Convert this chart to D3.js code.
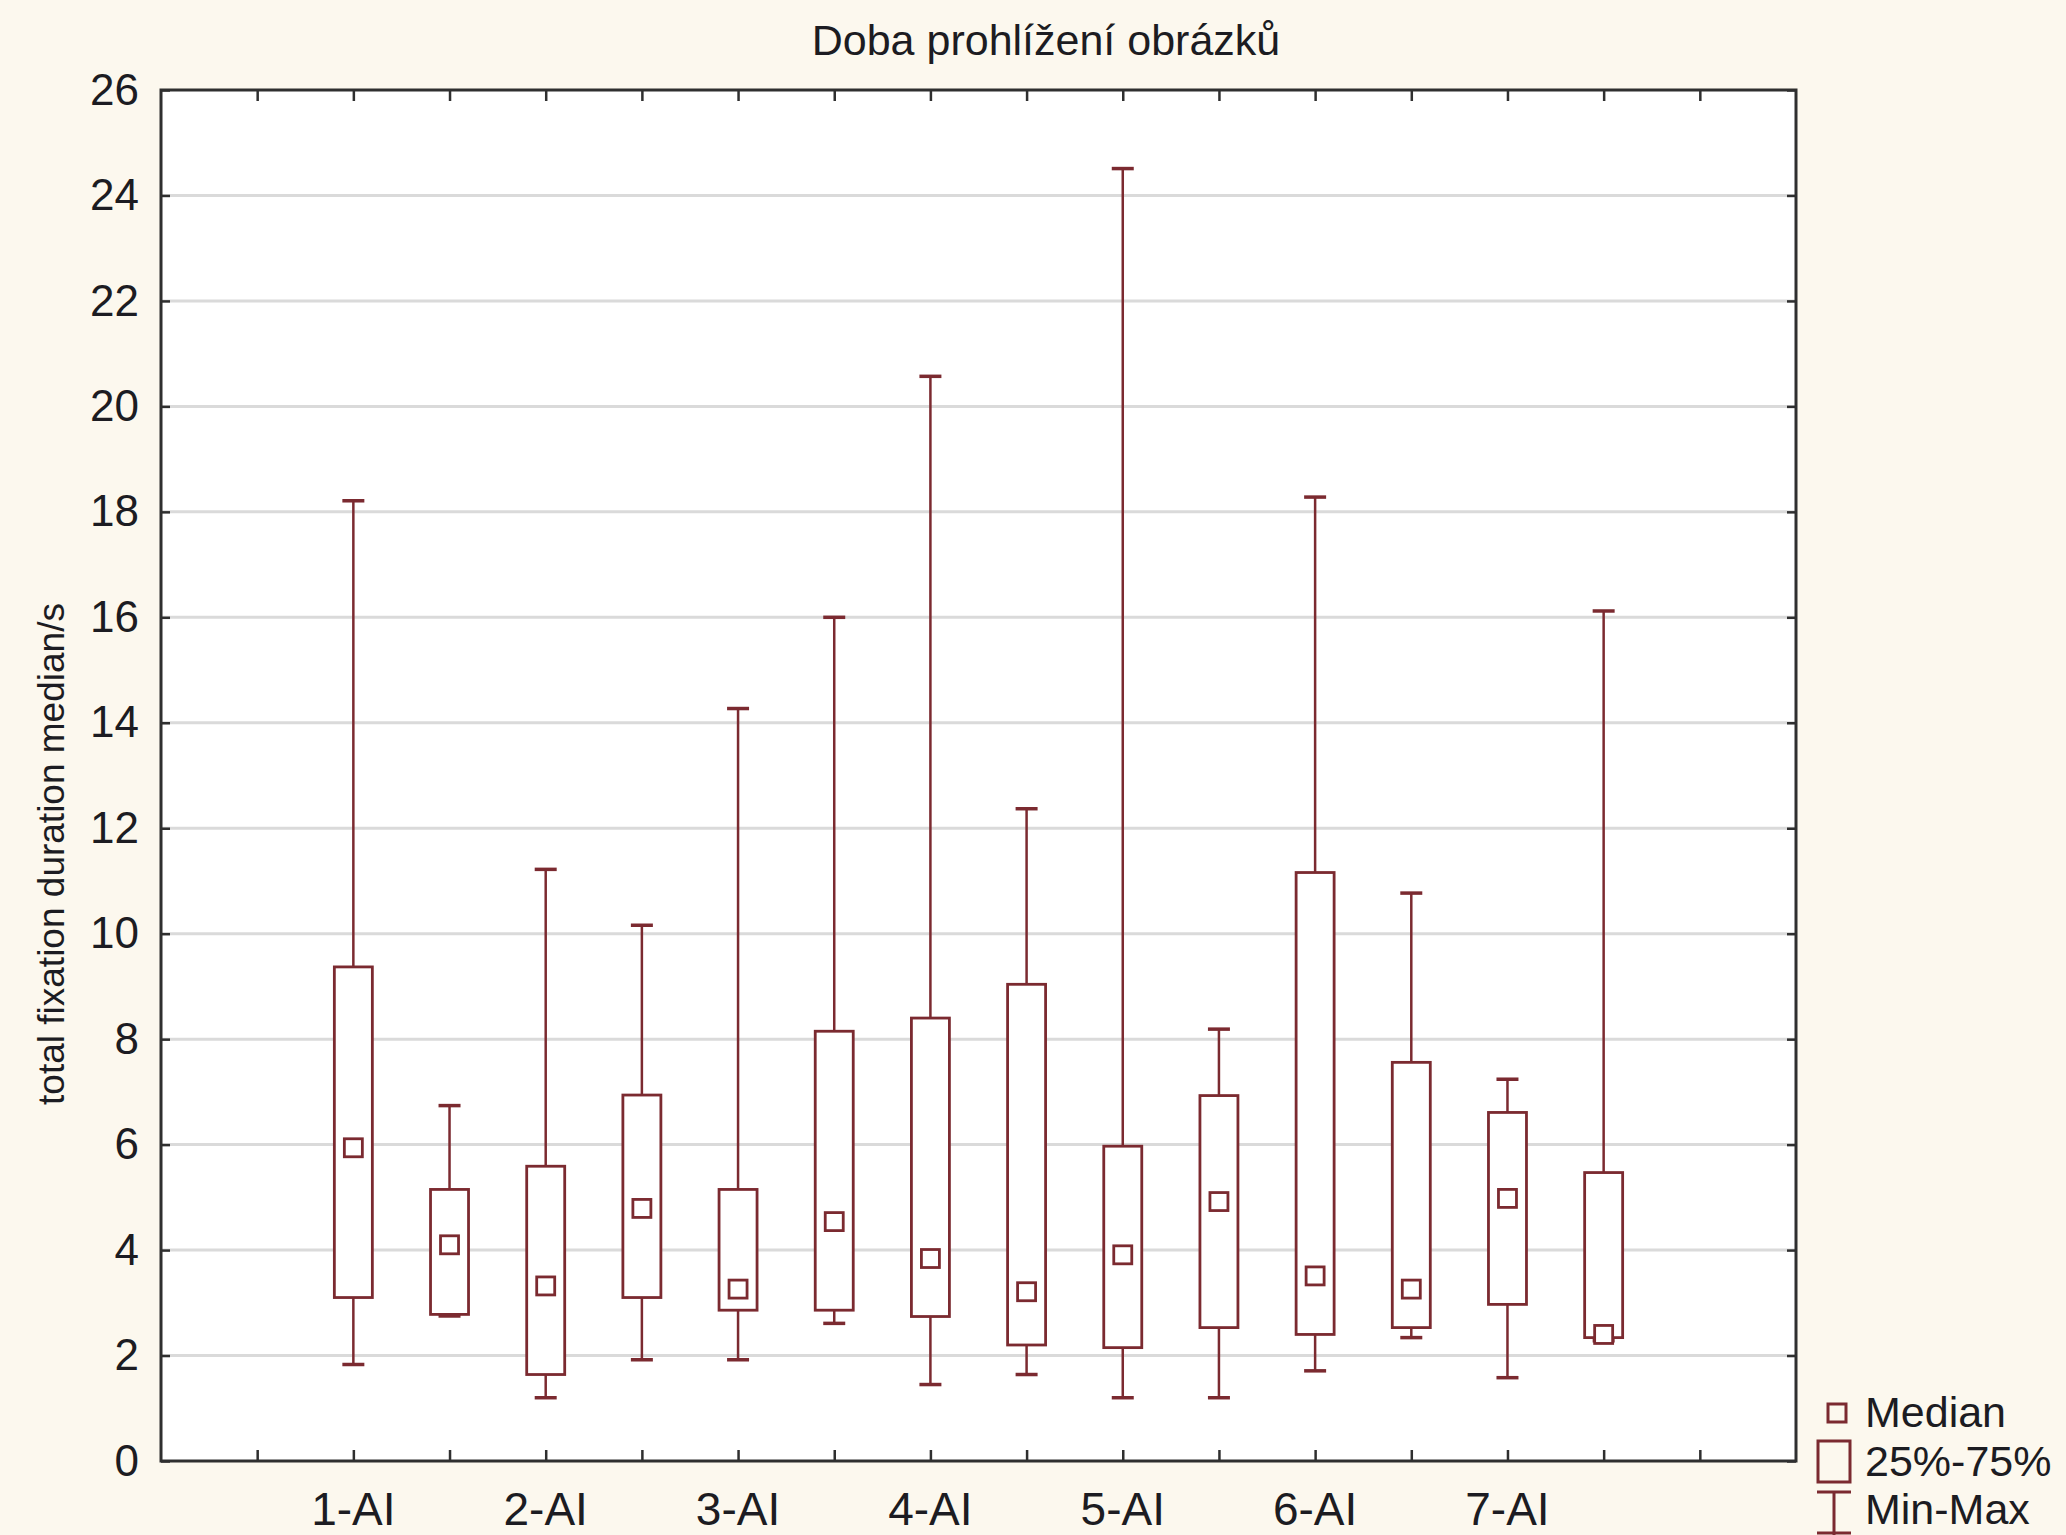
<!DOCTYPE html>
<html>
<head>
<meta charset="utf-8">
<script src="https://cdn.jsdelivr.net/npm/d3@7"></script>
<style>
  body { margin: 0; background: #fcf8ee; }
  text { font-family: "Liberation Sans", Arial, sans-serif; fill: #1c1c22; }
</style>
</head>
<body>
<div class="chartCont"></div>
<script>
var w = 2066;
var h = 1535;

// box positions on the category axis (Statistica style, 16 ticks)
const positions = [2, 3, 4, 5, 6, 7, 8, 9, 10, 11, 12, 13, 14, 15];
const tickLabels = ["1-AI", "", "2-AI", "", "3-AI", "", "4-AI", "", "5-AI", "", "6-AI", "", "7-AI", ""];

// values
const minVals    = [1.83, 2.75, 1.20, 1.92, 1.92, 2.61, 1.45, 1.64, 1.20, 1.20, 1.71, 2.34, 1.58, 2.28];
const q1Vals     = [3.10, 2.78, 1.64, 3.10, 2.86, 2.86, 2.74, 2.20, 2.15, 2.53, 2.40, 2.53, 2.97, 2.34];
const medianVals = [5.94, 4.10, 3.32, 4.79, 3.26, 4.54, 3.84, 3.21, 3.91, 4.92, 3.51, 3.26, 4.98, 2.40];
const q3Vals     = [9.37, 5.15, 5.59, 6.94, 5.15, 8.15, 8.40, 9.04, 5.97, 6.93, 11.16, 7.56, 6.61, 5.47];
const maxVals    = [18.21, 6.74, 11.22, 10.16, 14.27, 16.0, 20.57, 12.37, 24.51, 8.19, 18.28, 10.77, 7.24, 16.12];

const yTicks = d3.range(0, 27, 2);
const legendItems = ["Median", "25%-75%", "Min-Max"];

const col = "#7b2a30";

var svg = d3.select(".chartCont").append("svg")
    .attr("width", w)
    .attr("height", h);

svg.append("rect").attr("width", w).attr("height", h).attr("fill", "#fcf8ee");

const pLeft = 161, pRight = 1796, pTop = 90, pBottom = 1461;

const x = d3.scaleLinear().domain([0, 17]).range([pLeft, pRight]);
const y = d3.scaleLinear().domain([0, 26]).range([pBottom, pTop]);

// plot background
svg.append("rect")
    .attr("x", pLeft).attr("y", pTop)
    .attr("width", pRight - pLeft).attr("height", pBottom - pTop)
    .attr("fill", "#ffffff");

// gridlines
svg.append("g").selectAll("line")
    .data(yTicks.filter(d => d > 0 && d < 26))
    .enter().append("line")
    .attr("x1", pLeft).attr("x2", pRight)
    .attr("y1", d => y(d)).attr("y2", d => y(d))
    .attr("stroke", "#dadada")
    .attr("stroke-width", 3);

// axes with inward ticks
const xTickVals = d3.range(1, 17);

svg.append("g")
    .attr("transform", "translate(0," + pBottom + ")")
    .call(d3.axisBottom(x).tickValues(xTickVals).tickSize(-11).tickFormat(""))
    .call(g => g.select(".domain").remove())
    .selectAll("line").attr("stroke", "#2f2f2f").attr("stroke-width", 2.5);

svg.append("g")
    .attr("transform", "translate(0," + pTop + ")")
    .call(d3.axisTop(x).tickValues(xTickVals).tickSize(-11).tickFormat(""))
    .call(g => g.select(".domain").remove())
    .selectAll("line").attr("stroke", "#2f2f2f").attr("stroke-width", 2.5);

var yAxis = svg.append("g")
    .attr("transform", "translate(" + pLeft + ",0)")
    .call(d3.axisLeft(y).tickValues(yTicks).tickSize(-9).tickPadding(22))
    .call(g => g.select(".domain").remove());
yAxis.selectAll("line").attr("stroke", "#2f2f2f").attr("stroke-width", 2.5);
yAxis.selectAll("text")
    .style("font-family", "'Liberation Sans', Arial, sans-serif")
    .style("font-size", "44px")
    .attr("fill", "#1c1c22");

svg.append("g")
    .attr("transform", "translate(" + pRight + ",0)")
    .call(d3.axisRight(y).tickValues(yTicks).tickSize(-9).tickFormat(""))
    .call(g => g.select(".domain").remove())
    .selectAll("line").attr("stroke", "#2f2f2f").attr("stroke-width", 2.5);

// frame
svg.append("rect")
    .attr("x", pLeft).attr("y", pTop)
    .attr("width", pRight - pLeft).attr("height", pBottom - pTop)
    .attr("fill", "none")
    .attr("stroke", "#2f2f2f")
    .attr("stroke-width", 3);

// category labels
svg.append("g").selectAll("text")
    .data(positions)
    .enter().append("text")
    .attr("x", d => x(d))
    .attr("y", 1525)
    .attr("text-anchor", "middle")
    .style("font-size", "46px")
    .text((d, i) => tickLabels[i]);

// boxes
const boxes = positions.map((p, i) => ({
    p: p, min: minVals[i], q1: q1Vals[i], med: medianVals[i], q3: q3Vals[i], max: maxVals[i]
}));

const bw = 38, capW = 22, medS = 18;

var g = svg.append("g").selectAll("g")
    .data(boxes)
    .enter().append("g");

g.append("line")
    .attr("x1", d => x(d.p)).attr("x2", d => x(d.p))
    .attr("y1", d => y(d.min)).attr("y2", d => y(d.max))
    .attr("stroke", col).attr("stroke-width", 2.5);

g.append("line")
    .attr("x1", d => x(d.p) - capW / 2).attr("x2", d => x(d.p) + capW / 2)
    .attr("y1", d => y(d.max)).attr("y2", d => y(d.max))
    .attr("stroke", col).attr("stroke-width", 3.5);

g.append("line")
    .attr("x1", d => x(d.p) - capW / 2).attr("x2", d => x(d.p) + capW / 2)
    .attr("y1", d => y(d.min)).attr("y2", d => y(d.min))
    .attr("stroke", col).attr("stroke-width", 3.5);

g.append("rect")
    .attr("x", d => x(d.p) - bw / 2)
    .attr("y", d => y(d.q3))
    .attr("width", bw)
    .attr("height", d => y(d.q1) - y(d.q3))
    .attr("fill", "#ffffff")
    .attr("stroke", col).attr("stroke-width", 2.8);

g.append("rect")
    .attr("x", d => x(d.p) - medS / 2)
    .attr("y", d => y(d.med) - medS / 2)
    .attr("width", medS).attr("height", medS)
    .attr("fill", "#ffffff")
    .attr("stroke", col).attr("stroke-width", 2.8);

// title
svg.append("text")
    .attr("x", 1046).attr("y", 55)
    .attr("text-anchor", "middle")
    .style("font-size", "43px")
    .text("Doba prohlížení obrázků");

// y label
svg.append("text")
    .attr("transform", "translate(64,854) rotate(-90)")
    .attr("text-anchor", "middle")
    .style("font-size", "37px")
    .text("total fixation duration median/s");

// legend
var leg = svg.append("g");
leg.append("rect")
    .attr("x", 1828).attr("y", 1404).attr("width", 18).attr("height", 18)
    .attr("fill", "none").attr("stroke", col).attr("stroke-width", 3);
leg.append("rect")
    .attr("x", 1818).attr("y", 1441).attr("width", 32).attr("height", 41)
    .attr("fill", "none").attr("stroke", col).attr("stroke-width", 3);
leg.append("line")
    .attr("x1", 1834).attr("x2", 1834).attr("y1", 1492).attr("y2", 1535)
    .attr("stroke", col).attr("stroke-width", 3);
leg.append("line")
    .attr("x1", 1817).attr("x2", 1851).attr("y1", 1492).attr("y2", 1492)
    .attr("stroke", col).attr("stroke-width", 3);
leg.append("line")
    .attr("x1", 1817).attr("x2", 1851).attr("y1", 1533).attr("y2", 1533)
    .attr("stroke", col).attr("stroke-width", 3);

leg.selectAll("text")
    .data(legendItems)
    .enter().append("text")
    .attr("x", 1865)
    .attr("y", (d, i) => [1427, 1476, 1524][i])
    .style("font-size", "43px")
    .text(d => d);
</script>
</body>
</html>
